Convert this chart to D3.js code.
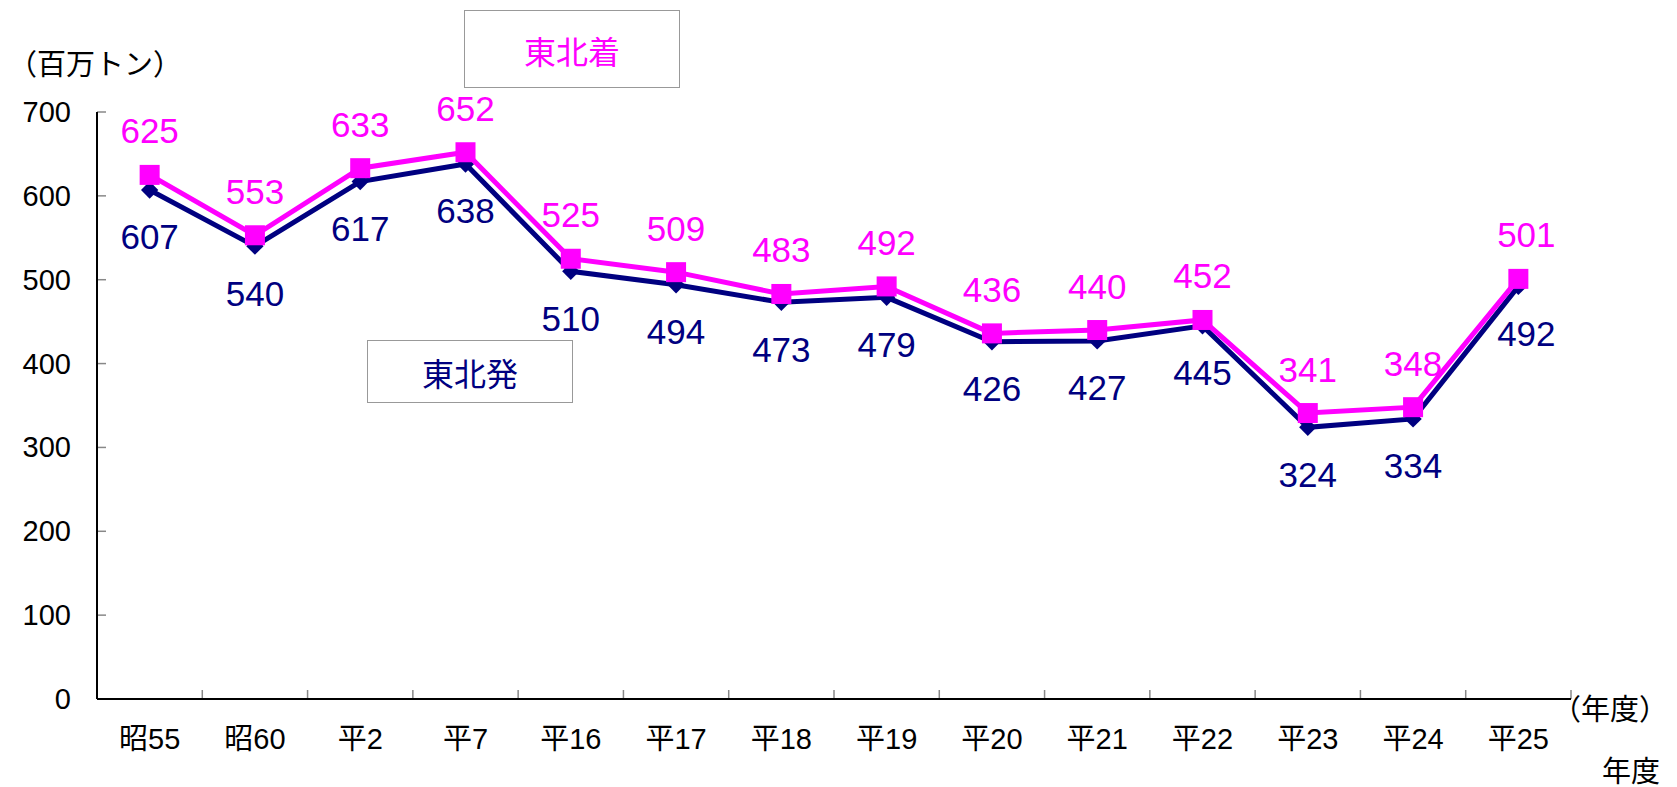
<!DOCTYPE html>
<html><head><meta charset="utf-8">
<script src="https://cdn.jsdelivr.net/npm/d3@7/dist/d3.min.js"></script>
<style>
html,body{margin:0;padding:0;background:#fff;}
svg text{font-family:"Liberation Sans","Noto Sans CJK JP",sans-serif;}
</style></head>
<body><svg id="c" width="1677" height="787"></svg>
<script>
const categories = ["昭55","昭60","平2","平7","平16","平17","平18","平19","平20","平21","平22","平23","平24","平25"];
const hatsu = [607,540,617,638,510,494,473,479,426,427,445,324,334,492]; // 東北発
const chaku = [625,553,633,652,525,509,483,492,436,440,452,341,348,501]; // 東北着
const yTicks = [0,100,200,300,400,500,600,700];

const svg = d3.select("#c");
const x0 = 97, x1 = 1571, yB = 699, yT = 112;
const x = d3.scaleBand().domain(categories).range([x0, x1]).padding(0);
const y = d3.scaleLinear().domain([0,700]).range([yB, yT]);
const cx = d => x(d) + x.bandwidth()/2;

// y ticks (inward, gray)
svg.append("g").selectAll("line").data(yTicks).join("line")
  .attr("x1", x0).attr("x2", x0+9).attr("y1", d=>y(d)).attr("y2", d=>y(d))
  .attr("stroke", "#888").attr("stroke-width", 1.5);
svg.append("g").selectAll("text").data(yTicks).join("text")
  .attr("x", 71).attr("y", d=>y(d)).attr("text-anchor","end").attr("dominant-baseline","central")
  .attr("font-size", 29).attr("fill","#000").text(d=>d);

// x ticks at band boundaries
const bounds = categories.map(c => x(c)).concat([x1]);
svg.append("g").selectAll("line").data(bounds.slice(1)).join("line")
  .attr("x1", d=>d).attr("x2", d=>d).attr("y1", yB).attr("y2", yB-9)
  .attr("stroke", "#888").attr("stroke-width", 1.5);
svg.append("g").selectAll("text").data(categories).join("text")
  .attr("x", d=>cx(d)).attr("y", 739).attr("text-anchor","middle").attr("dominant-baseline","central")
  .attr("font-size", 29).attr("fill","#000").text(d=>d);

// axes lines
svg.append("line").attr("x1",x0).attr("x2",x0).attr("y1",yT).attr("y2",yB).attr("stroke","#000").attr("stroke-width",2);
svg.append("line").attr("x1",x0).attr("x2",x1).attr("y1",yB).attr("y2",yB).attr("stroke","#000").attr("stroke-width",2);

// unit labels
svg.append("text").attr("x", 8).attr("y", 65).attr("dominant-baseline","central").attr("font-size",29).text("（百万トン）");
svg.append("text").attr("x", 1552).attr("y", 710).attr("dominant-baseline","central").attr("font-size",29).text("（年度）");
svg.append("text").attr("x", 1602).attr("y", 772).attr("dominant-baseline","central").attr("font-size",29).text("年度");

const line = d3.line().x((d,i)=>cx(categories[i])).y(d=>y(d));

// navy series
svg.append("path").datum(hatsu).attr("d", line).attr("fill","none").attr("stroke","#000080").attr("stroke-width",5).attr("stroke-linejoin","miter");
svg.append("g").selectAll("path").data(hatsu).join("path")
  .attr("d", d3.symbol().type(d3.symbolSquare).size(150))
  .attr("transform", (d,i)=>`translate(${cx(categories[i])},${y(d)}) rotate(45)`)
  .attr("fill","#000080");

// pink series
svg.append("path").datum(chaku).attr("d", line).attr("fill","none").attr("stroke","#FF00FF").attr("stroke-width",5).attr("stroke-linejoin","miter");
svg.append("g").selectAll("rect").data(chaku).join("rect")
  .attr("x",(d,i)=>cx(categories[i])-10).attr("y",d=>y(d)-10).attr("width",20).attr("height",20)
  .attr("fill","#FF00FF");

// data labels
svg.append("g").selectAll("text").data(hatsu).join("text")
  .attr("x",(d,i)=>cx(categories[i])+(i===13?8:0)).attr("y",d=>y(d)+47)
  .attr("text-anchor","middle").attr("dominant-baseline","central")
  .attr("font-size",35).attr("fill","#000080").text(d=>d);
svg.append("g").selectAll("text").data(chaku).join("text")
  .attr("x",(d,i)=>cx(categories[i])+(i===13?8:0)).attr("y",d=>y(d)-44)
  .attr("text-anchor","middle").attr("dominant-baseline","central")
  .attr("font-size",35).attr("fill","#FF00FF").text(d=>d);

// legend boxes
svg.append("rect").attr("x",464.5).attr("y",10.5).attr("width",215).attr("height",77).attr("fill","#fff").attr("stroke","#999").attr("stroke-width",1);
svg.append("text").attr("x",572).attr("y",53).attr("text-anchor","middle").attr("dominant-baseline","central").attr("font-size",32).attr("fill","#FF00FF").text("東北着");
svg.append("rect").attr("x",367.5).attr("y",340.5).attr("width",205).attr("height",62).attr("fill","#fff").attr("stroke","#999").attr("stroke-width",1);
svg.append("text").attr("x",470).attr("y",375).attr("text-anchor","middle").attr("dominant-baseline","central").attr("font-size",32).attr("fill","#000080").text("東北発");
</script></body></html>
